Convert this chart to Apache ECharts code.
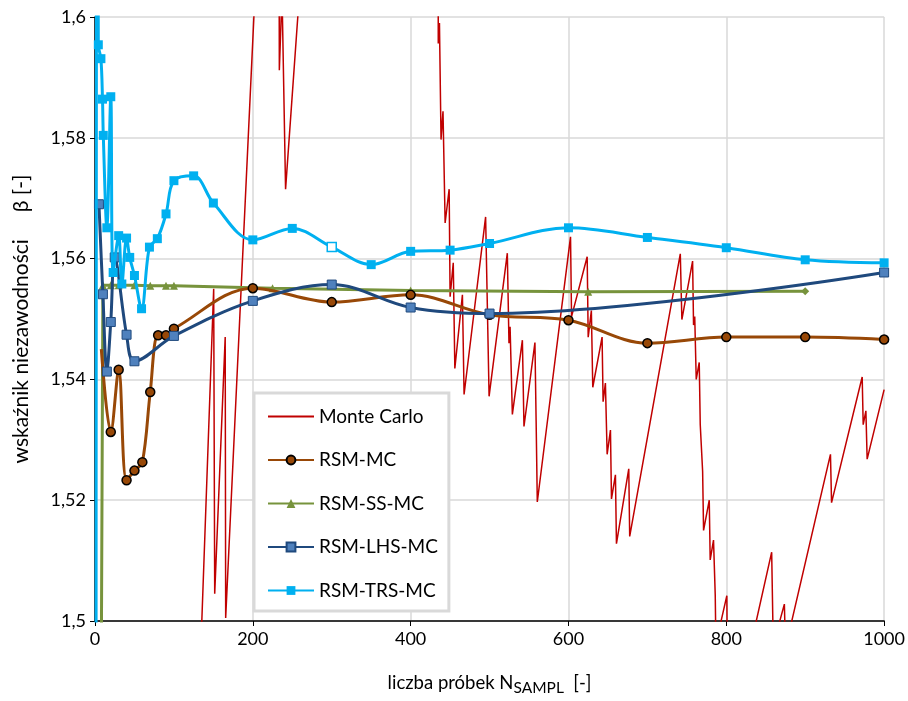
<!DOCTYPE html>
<html>
<head>
<meta charset="utf-8">
<script src="https://cdn.jsdelivr.net/npm/echarts@6/dist/echarts.min.js"></script>
<style>
html,body{margin:0;padding:0;background:#fff;}
#chart{width:908px;height:701px;}
</style>
</head>
<body>
<div id="chart"></div>
<script>
// ---- data ----
var mcX = [134, 150.4, 151.7, 165, 165.6, 215, 232.5, 233.6, 237, 241.5, 270, 433.5, 435, 436.5, 438.5, 441, 443.7, 448.8, 450, 454, 456, 465.6, 467.7, 495, 499.4, 522.5, 524.6, 526, 528.9, 541.6, 543.6, 557.5, 559, 560.5, 602.6, 603.9, 623.7, 625, 629, 630.8, 642.6, 643.9, 646.8, 649, 653.2, 654.5, 659.5, 660.8, 676.4, 677.6, 741.7, 743.7, 757.3, 758.5, 760, 761.9, 765.7, 767, 770, 771.2, 778.4, 779.6, 783.8, 786, 786.8, 800.7, 802, 857.5, 859.5, 873.6, 875, 932, 933.4, 972.2, 973.5, 976.9, 978.5, 1000];
var mcY = [1.495, 1.555, 1.5045, 1.547, 1.5005, 1.638, 1.66, 1.5912, 1.604, 1.5715, 1.624, 1.72, 1.5956, 1.599, 1.5797, 1.5844, 1.5659, 1.5715, 1.5537, 1.5593, 1.5418, 1.554, 1.5375, 1.5669, 1.5372, 1.5609, 1.546, 1.5487, 1.5342, 1.5465, 1.5322, 1.5461, 1.5332, 1.5197, 1.5636, 1.5504, 1.5603, 1.547, 1.5514, 1.5387, 1.547, 1.5363, 1.5394, 1.5276, 1.5316, 1.5202, 1.5242, 1.5128, 1.5252, 1.514, 1.5608, 1.5499, 1.5596, 1.549, 1.5504, 1.54, 1.5428, 1.5325, 1.5248, 1.515, 1.52, 1.5101, 1.5134, 1.5042, 1.4962, 1.5042, 1.479, 1.5114, 1.496, 1.5028, 1.4955, 1.5276, 1.5196, 1.5404, 1.5325, 1.5348, 1.5268, 1.5383];

var rsmX = [8, 20, 30, 40, 50, 60, 70, 80, 90, 100, 200, 300, 400, 500, 600, 700, 800, 900, 1000];
var rsmY = [1.5450, 1.5313, 1.5416, 1.5233, 1.5249, 1.5263, 1.5379, 1.5473, 1.5473, 1.5484, 1.5551, 1.5528, 1.5540, 1.5507, 1.5498, 1.5460, 1.5470, 1.5470, 1.5466];

var ssX = [5, 10, 20, 30, 50, 70, 90, 100, 225, 400, 625, 900];
var ssY = [1.40, 1.5556, 1.5556, 1.5556, 1.5556, 1.5555, 1.5555, 1.5555, 1.5551, 1.5547, 1.5545, 1.5546];

var lhsX = [5, 10, 15, 20, 25, 40, 50, 100, 200, 300, 400, 500, 1000];
var lhsY = [1.569, 1.5541, 1.5413, 1.5495, 1.5602, 1.5474, 1.5430, 1.5472, 1.5530, 1.5557, 1.5519, 1.5509, 1.5577];

var trsX = [1, 2.5, 4.2, 7.5, 9.5, 10.5, 15, 20, 23, 30, 34, 40, 44, 50, 59, 69, 79, 90, 100, 125, 150, 200, 250, 300, 350, 400, 450, 500, 600, 700, 800, 900, 1000];
var trsY = [1.30, 1.75, 1.5954, 1.5931, 1.5864, 1.5804, 1.5651, 1.5868, 1.5577, 1.5638, 1.5558, 1.5634, 1.5602, 1.5572, 1.5517, 1.5619, 1.5633, 1.5674, 1.5729, 1.5737, 1.5692, 1.5631, 1.5650, 1.5619, 1.5590, 1.5612, 1.5614, 1.5625, 1.5651, 1.5635, 1.5618, 1.5598, 1.5593];

var seriesNames = ['Monte Carlo', 'RSM-MC', 'RSM-SS-MC', 'RSM-LHS-MC', 'RSM-TRS-MC'];
var yTicks = {min: 1.5, max: 1.6, step: 0.02};
var xTicks = {min: 0, max: 1000, step: 200};

function pairs(xs, ys) { return xs.map(function (x, i) { return [x, ys[i]]; }); }

var FONT = 'Lato';
var chart = echarts.init(document.getElementById('chart'), null, {renderer: 'canvas'});

var trsData = pairs(trsX, trsY).map(function (p, i) {
  if (p[0] === 300) return {value: p, itemStyle: {color: '#ffffff', borderColor: '#00b0f0', borderWidth: 1.5}};
  if (i < 2) return {value: p, symbol: 'none'};
  return p;
});
var ssData = pairs(ssX, ssY).map(function (p, i) {
  if (i === ssX.length - 1) return {value: p, symbol: 'diamond', symbolSize: 8};
  if (i === 0) return {value: p, symbol: 'none'};
  return p;
});
var rsmData = pairs(rsmX, rsmY).map(function (p, i) {
  if (i === 0) return {value: p, symbol: 'none'};
  return p;
});

chart.setOption({
  animation: false,
  backgroundColor: '#ffffff',
  grid: {left: 95, right: 22, top: 17, bottom: 74},
  legend: {
    orient: 'vertical',
    left: 254, top: 393,
    backgroundColor: '#ffffff',
    borderColor: '#d9d9d9', borderWidth: 3,
    padding: [14, 11, 11, 13],
    itemWidth: 46, itemHeight: 11, itemGap: 24.5,
    textStyle: {fontFamily: FONT, fontSize: 19, color: '#000'},
    data: [
      {name: seriesNames[0], itemStyle: {opacity: 0}},
      seriesNames[1], seriesNames[2], seriesNames[3], seriesNames[4]
    ]
  },
  xAxis: {
    type: 'value', min: xTicks.min, max: xTicks.max, interval: xTicks.step,
    name: '{a|liczba próbek N}{s|SAMPL}{a|  [-]}',
    nameLocation: 'middle', nameGap: 50,
    nameTextStyle: {rich: {a: {fontFamily: FONT, fontSize: 18.5, color: '#000'}, s: {fontFamily: FONT, fontSize: 15.5, color: '#000', padding: [9, 0, 0, 0]}}},
    axisLine: {lineStyle: {color: '#000', width: 1.5}},
    axisTick: {show: true, length: 5, lineStyle: {color: '#000'}},
    axisLabel: {fontFamily: FONT, fontSize: 18, color: '#000', margin: 9,
      formatter: function (v) { return String(v); }},
    splitLine: {show: true, lineStyle: {color: '#d9d9d9', width: 1.5}}
  },
  yAxis: {
    type: 'value', min: yTicks.min, max: yTicks.max, interval: yTicks.step,
    name: 'wskaźnik niezawodności     β [-]',
    nameLocation: 'middle', nameGap: 63, nameRotate: 90,
    nameTextStyle: {fontFamily: FONT, fontSize: 21, color: '#000'},
    axisLine: {show: true, lineStyle: {color: '#000', width: 1.5}},
    axisTick: {show: true, length: 5, lineStyle: {color: '#000'}},
    axisLabel: {fontFamily: FONT, fontSize: 18, color: '#000', margin: 9,
      formatter: function (v) { return String(+v.toFixed(2)).replace('.', ','); }},
    splitLine: {show: true, lineStyle: {color: '#d9d9d9', width: 1.5}}
  },
  series: [
    {name: seriesNames[0], type: 'line', data: pairs(mcX, mcY), showSymbol: false, symbol: 'none',
     lineStyle: {color: '#c00000', width: 1.5}, itemStyle: {color: '#c00000'}, z: 1},
    {name: seriesNames[1], type: 'line', data: rsmData, smooth: 0.35,
     symbol: 'circle', symbolSize: 9,
     lineStyle: {color: '#984807', width: 3},
     itemStyle: {color: '#984807', borderColor: '#000', borderWidth: 1.5}, z: 3},
    {name: seriesNames[2], type: 'line', data: ssData, smooth: false,
     symbol: 'triangle', symbolSize: 8,
     lineStyle: {color: '#77933c', width: 3},
     itemStyle: {color: '#77933c'}, z: 2},
    {name: seriesNames[3], type: 'line', data: pairs(lhsX, lhsY), smooth: 0.35,
     symbol: 'rect', symbolSize: 9,
     lineStyle: {color: '#1f497d', width: 3},
     itemStyle: {color: '#4f81bd', borderColor: '#1f497d', borderWidth: 1}, z: 4},
    {name: seriesNames[4], type: 'line', data: trsData, smooth: 0.35,
     symbol: 'rect', symbolSize: 9,
     lineStyle: {color: '#00b0f0', width: 3},
     itemStyle: {color: '#00b0f0'}, z: 5}
  ]
});
</script>
</body>
</html>
